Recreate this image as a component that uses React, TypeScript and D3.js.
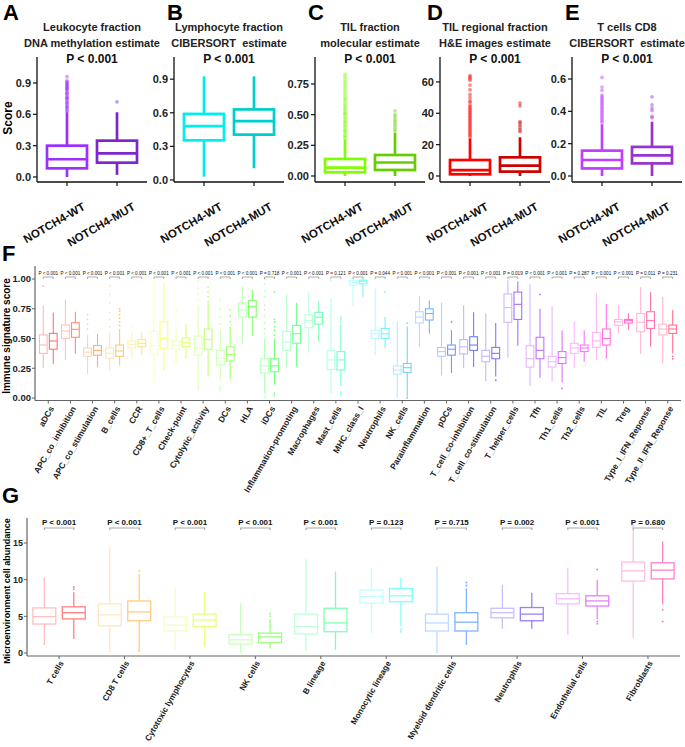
import React from "react";
import * as d3 from "d3";

const FONT = "'Liberation Sans', Arial, sans-serif";

// ---------------- Panels A–E data ----------------
const topGroups = ["NOTCH4-WT", "NOTCH4-MUT"];
const topLetters = ["A", "B", "C", "D", "E"];
const topTitleLine1 = ["Leukocyte fraction", "Lymphocyte fraction", "TIL fraction", "TIL regional fraction", "T cells CD8"];
const topTitleLine2 = ["DNA methylation estimate", "CIBERSORT  estimate", "molecular estimate", "H&E images estimate", "CIBERSORT  estimate"];
const topPValues = ["P < 0.001", "P < 0.001", "P < 0.001", "P < 0.001", "P < 0.001"];
const topTicks = [
  [0, 0.3, 0.6, 0.9],
  [0, 0.3, 0.6, 0.9],
  [0, 0.25, 0.5, 0.75],
  [0, 20, 40, 60],
  [0, 0.2, 0.4, 0.6],
];
const topTickDigits = [1, 1, 2, 0, 1];
const topDomains = [
  [-0.048, 1.149],
  [-0.018, 1.098],
  [-0.049, 0.97],
  [-3.83, 75.9],
  [-0.037, 0.736],
];
// [min, q1, median, q3, max]
const topWTStats = [
  [0.0, 0.083, 0.17, 0.3, 0.62],
  [0.03, 0.354, 0.48, 0.59, 0.925],
  [0.0, 0.03, 0.068, 0.139, 0.3],
  [0.0, 1.1, 3.8, 10.2, 24],
  [0.0, 0.047, 0.099, 0.157, 0.32],
];
const topMUTStats = [
  [0.02, 0.137, 0.227, 0.348, 0.62],
  [0.105, 0.405, 0.525, 0.63, 0.925],
  [0.0, 0.049, 0.11, 0.171, 0.35],
  [0.0, 2.8, 6.6, 11.9, 24.7],
  [0.0, 0.078, 0.128, 0.18, 0.336],
];
const topWTOutliers = [
  [0.63, 0.64, 0.66, 0.67, 0.68, 0.7, 0.71, 0.72, 0.74, 0.75, 0.76, 0.77, 0.79, 0.8, 0.81, 0.83, 0.84, 0.85, 0.86, 0.87, 0.88, 0.89, 0.9, 0.91, 0.92, 0.96],
  [],
  [0.31, 0.32, 0.33, 0.35, 0.36, 0.37, 0.38, 0.4, 0.41, 0.43, 0.44, 0.45, 0.47, 0.48, 0.5, 0.51, 0.52, 0.54, 0.55, 0.57, 0.58, 0.6, 0.62, 0.63, 0.65, 0.67, 0.69, 0.71, 0.73, 0.75, 0.77, 0.79, 0.81, 0.83],
  [25, 26, 27, 28, 29, 30, 31, 32, 33, 34, 35, 36, 37, 38, 39, 40, 41, 42, 43, 44, 45, 47, 48, 50, 52, 55, 58, 61, 62, 63, 64],
  [0.33, 0.34, 0.35, 0.36, 0.37, 0.38, 0.39, 0.4, 0.41, 0.42, 0.43, 0.44, 0.45, 0.46, 0.47, 0.48, 0.49, 0.5, 0.53, 0.55, 0.61],
];
const topMUTOutliers = [
  [0.72],
  [],
  [0.36, 0.38, 0.4, 0.42, 0.44, 0.46, 0.48, 0.5, 0.53],
  [28.3, 29.5, 31, 32.5, 33.8, 34.7, 44.7, 46.5],
  [0.36, 0.37, 0.405, 0.42, 0.44, 0.49],
];
const topColorsWT = ["#9B30FF", "#00EEEE", "#7FFF00", "#FF0000", "#BF3EFF"];
const topColorsMUT = ["#7D26CD", "#00CDCD", "#66CD00", "#CD0000", "#9A32CD"];

// ---------------- Panel F data ----------------
const fCats = [
  "aDCs", "APC_co_inhibition", "APC_co_stimulation", "B_cells", "CCR", "CD8+_T_cells", "Check-point",
  "Cytolytic_activity", "DCs", "HLA", "iDCs", "Inflammation-promoting", "Macrophages", "Mast_cells",
  "MHC_class_I", "Neutrophils", "NK_cells", "Parainflammation", "pDCs", "T_cell_co-inhibition",
  "T_cell_co-stimulation", "T_helper_cells", "Tfh", "Th1_cells", "Th2_cells", "TIL", "Treg",
  "Type_I_IFN_Reponse", "Type_II_IFN_Reponse",
];
const fPValues = [
  "P < 0.001", "P < 0.001", "P < 0.001", "P < 0.001", "P < 0.001", "P < 0.001", "P < 0.001",
  "P < 0.001", "P < 0.001", "P < 0.001", "P = 0.718", "P < 0.001", "P < 0.001", "P = 0.121",
  "P < 0.001", "P = 0.044", "P < 0.001", "P < 0.001", "P < 0.001", "P < 0.001",
  "P < 0.001", "P = 0.019", "P < 0.001", "P < 0.001", "P = 0.287", "P < 0.001", "P < 0.001",
  "P = 0.011", "P = 0.231",
];
const fWTStats = [
  [0.25, 0.375, 0.445, 0.53, 0.78],
  [0.32, 0.5, 0.563, 0.613, 0.83],
  [0.2, 0.35, 0.385, 0.42, 0.53],
  [0.23, 0.335, 0.375, 0.42, 0.55],
  [0.33, 0.42, 0.45, 0.48, 0.56],
  [0.12, 0.37, 0.44, 0.56, 1.0],
  [0.29, 0.41, 0.445, 0.48, 0.58],
  [0.06, 0.36, 0.42, 0.52, 0.78],
  [0.15, 0.28, 0.335, 0.4, 0.58],
  [0.45, 0.68, 0.74, 0.8, 0.94],
  [0.04, 0.21, 0.27, 0.33, 0.5],
  [0.25, 0.4, 0.47, 0.56, 0.87],
  [0.38, 0.59, 0.65, 0.7, 0.89],
  [0.04, 0.24, 0.32, 0.4, 0.84],
  [0.77, 0.95, 0.97, 0.986, 1.0],
  [0.36, 0.5, 0.54, 0.57, 0.92],
  [0.0, 0.2, 0.235, 0.27, 0.64],
  [0.43, 0.63, 0.68, 0.725, 0.86],
  [0.19, 0.35, 0.39, 0.425, 0.8],
  [0.25, 0.37, 0.43, 0.49, 0.78],
  [0.14, 0.305, 0.35, 0.4, 0.71],
  [0.34, 0.636, 0.76, 0.874, 0.99],
  [0.1, 0.26, 0.33, 0.44, 0.96],
  [0.14, 0.26, 0.305, 0.35, 0.77],
  [0.25, 0.375, 0.42, 0.46, 0.64],
  [0.32, 0.425, 0.48, 0.55, 0.88],
  [0.54, 0.61, 0.64, 0.66, 0.78],
  [0.37, 0.557, 0.636, 0.71, 0.93],
  [0.29, 0.53, 0.58, 0.62, 0.85],
];
const fMUTStats = [
  [0.286, 0.41, 0.479, 0.543, 0.717],
  [0.375, 0.51, 0.577, 0.633, 0.725],
  [0.26, 0.36, 0.4, 0.44, 0.54],
  [0.27, 0.35, 0.395, 0.445, 0.58],
  [0.36, 0.43, 0.46, 0.49, 0.55],
  [0.23, 0.42, 0.5, 0.64, 0.97],
  [0.33, 0.43, 0.465, 0.505, 0.62],
  [0.18, 0.41, 0.49, 0.58, 0.82],
  [0.16, 0.31, 0.365, 0.43, 0.6],
  [0.52, 0.68, 0.77, 0.82, 0.91],
  [0.11, 0.22, 0.27, 0.33, 0.5],
  [0.26, 0.46, 0.54, 0.61, 0.8],
  [0.47, 0.62, 0.68, 0.72, 0.81],
  [0.1, 0.235, 0.32, 0.39, 0.62],
  [0.85, 0.96, 0.98, 0.99, 1.0],
  [0.42, 0.5, 0.54, 0.585, 0.68],
  [0.01, 0.215, 0.255, 0.29, 0.6],
  [0.54, 0.655, 0.71, 0.75, 0.82],
  [0.21, 0.36, 0.41, 0.445, 0.57],
  [0.26, 0.4, 0.445, 0.515, 0.72],
  [0.18, 0.33, 0.375, 0.425, 0.63],
  [0.44, 0.66, 0.787, 0.89, 0.98],
  [0.17, 0.33, 0.4, 0.51, 0.75],
  [0.13, 0.29, 0.34, 0.39, 0.57],
  [0.305, 0.39, 0.42, 0.445, 0.57],
  [0.33, 0.445, 0.5, 0.58, 0.79],
  [0.57, 0.63, 0.65, 0.66, 0.71],
  [0.43, 0.585, 0.65, 0.725, 0.89],
  [0.375, 0.543, 0.58, 0.613, 0.74],
];
const fWTOutliers = [
  [0.94], [], [0.58, 0.62, 0.66, 0.7], [0.6, 0.66, 0.72, 0.8, 0.87, 0.94], [0.6], [], [0.63, 0.68, 0.73],
  [0.82, 0.87, 0.92, 0.98], [0.62, 0.68, 0.75, 0.82, 0.1, 0.08, 0.06], [], [0.54, 0.58, 0.63, 0.69, 0.74, 0.78, 0.85, 0.9, 0.96, 1.0, 0.01],
  [], [], [0.99], [], [], [], [], [], [], [], [], [], [], [], [], [], [], [],
];
const fMUTOutliers = [
  [], [], [], [0.61, 0.64, 0.67, 0.7, 0.73, 0.75], [], [], [],
  [0.85, 0.89, 0.93], [0.64, 0.69, 0.74], [], [0.53, 0.57, 0.6, 0.64, 0.66, 0.89, 0.04, 0.02],
  [], [], [0.64, 0.66, 0.68, 0.05, 0.03], [], [0.89], [0.63, 0.0], [], [0.64], [], [0.15], [], [0.87], [0.08], [], [], [], [], [0.33, 0.35],
];

// ---------------- Panel G data ----------------
const gCats = [
  "T cells", "CD8 T cells", "Cytotoxic lymphocytes", "NK cells", "B lineage", "Monocytic lineage",
  "Myeloid dendritic cells", "Neutrophils", "Endothelial cells", "Fibroblasts",
];
const gPValues = ["P < 0.001", "P < 0.001", "P < 0.001", "P < 0.001", "P < 0.001", "P = 0.123", "P = 0.715", "P = 0.002", "P < 0.001", "P = 0.680"];
const gWTStats = [
  [1.1, 3.95, 4.95, 6.15, 10.3],
  [0.0, 3.7, 5.2, 6.7, 14.5],
  [0.4, 3.0, 3.8, 4.9, 8.9],
  [0.0, 1.2, 1.8, 2.5, 6.8],
  [0.3, 2.6, 3.6, 5.3, 12.8],
  [2.7, 6.8, 7.7, 8.6, 11.6],
  [0.0, 3.0, 4.1, 5.3, 11.8],
  [3.3, 4.8, 5.5, 6.1, 9.3],
  [2.5, 6.7, 7.4, 8.1, 11.6],
  [2.0, 9.8, 11.2, 12.4, 16.8],
];
const gMUTStats = [
  [1.9, 4.65, 5.5, 6.3, 8.3],
  [0.1, 4.4, 5.6, 7.1, 10.8],
  [0.8, 3.6, 4.5, 5.3, 8.3],
  [0.6, 1.4, 2.2, 2.7, 4.6],
  [0.4, 2.9, 4.1, 6.1, 11.1],
  [3.6, 7.0, 7.8, 8.8, 10.3],
  [1.1, 3.0, 4.2, 5.5, 8.8],
  [3.3, 4.4, 5.3, 6.2, 8.2],
  [4.6, 6.4, 7.1, 7.8, 10.0],
  [6.6, 10.1, 11.3, 12.3, 15.2],
];
const gWTOutliers = [[], [], [], [], [], [], [], [], [], [17.2, 17.5]];
const gMUTOutliers = [[8.7, 9.0], [11.2, 0.4], [], [5.0, 5.4], [], [3.2, 2.9], [9.2, 9.6], [], [11.4, 4.3, 4.0], [5.9, 4.3]];
const gTicks = [0, 5, 10, 15];
const fTicks = [0, 0.25, 0.5, 0.75, 1.0];

// ---------------- helpers ----------------
const blend = (hue: number, alpha: number) =>
  d3.interpolateRgb("#ffffff", d3.hsl(hue, 1, 0.5).formatHex())(alpha);

type BoxProps = {
  cx: number; w: number; stats: number[]; ys: (v: number) => number; color: string;
  sw: number; outliers: number[]; r: number; ptOpacity: number;
};
function Box({ cx, w, stats, ys, color, sw, outliers, r, ptOpacity }: BoxProps) {
  const [mn, q1, md, q3, mx] = stats;
  return (
    <g>
      {outliers.map((v, k) => (
        <circle key={k} cx={cx} cy={ys(v)} r={r} fill={color} fillOpacity={ptOpacity} />
      ))}
      <line x1={cx} x2={cx} y1={ys(q3)} y2={ys(mx)} stroke={color} strokeWidth={sw} />
      <line x1={cx} x2={cx} y1={ys(q1)} y2={ys(mn)} stroke={color} strokeWidth={sw} />
      <rect x={cx - w / 2} y={ys(q3)} width={w} height={ys(q1) - ys(q3)} fill="#fff" stroke={color} strokeWidth={sw} />
      <line x1={cx - w / 2} x2={cx + w / 2} y1={ys(md)} y2={ys(md)} stroke={color} strokeWidth={sw} />
    </g>
  );
}

// ---------------- Top panel ----------------
const topAxisX = [37, 174, 315, 440, 572];
const topLetterX = [3, 167, 308, 427, 565];
const topPlotW = 110;
const topY0 = 182;
const topY1 = 57;

function TopPanel({ i }: { i: number }) {
  const x0 = topAxisX[i];
  const xs = d3.scaleBand().domain(topGroups).range([x0, x0 + topPlotW]).paddingInner(0.2).paddingOuter(0.2);
  const ys = d3.scaleLinear().domain(topDomains[i]).range([topY0, topY1]);
  const bw = xs.bandwidth();
  const cxm = x0 + topPlotW / 2;
  const fmt = d3.format(`.${topTickDigits[i]}f`);
  const stats = [topWTStats[i], topMUTStats[i]];
  const outs = [topWTOutliers[i], topMUTOutliers[i]];
  const cols = [topColorsWT[i], topColorsMUT[i]];
  return (
    <g>
      <text x={topLetterX[i]} y={20} fontSize={22} fontWeight="bold">{topLetters[i]}</text>
      <text x={cxm} y={31} fontSize={11} fontWeight="bold" textAnchor="middle" fill="#222">{topTitleLine1[i]}</text>
      <text x={cxm} y={47} fontSize={11} fontWeight="bold" textAnchor="middle" fill="#222" style={{ whiteSpace: "pre" }}>{topTitleLine2[i]}</text>
      <text x={cxm} y={63} fontSize={12} fontWeight="bold" textAnchor="middle" fill="#111">{topPValues[i]}</text>
      {topGroups.map((g, k) => (
        <Box key={g} cx={(xs(g) as number) + bw / 2} w={bw} stats={stats[k]} ys={ys} color={cols[k]} sw={2.7}
          outliers={outs[k]} r={1.9} ptOpacity={0.45} />
      ))}
      <line x1={x0} x2={x0} y1={topY1} y2={topY0} stroke="#111" strokeWidth={1.3} />
      <line x1={x0} x2={x0 + topPlotW} y1={topY0} y2={topY0} stroke="#111" strokeWidth={1.3} />
      {topTicks[i].map((t) => (
        <g key={t}>
          <line x1={x0 - 4} x2={x0} y1={ys(t)} y2={ys(t)} stroke="#111" strokeWidth={1.2} />
          <text x={x0 - 6} y={ys(t)} dy="0.36em" fontSize={11} fontWeight="bold" textAnchor="end" fill="#222">{fmt(t)}</text>
        </g>
      ))}
      {topGroups.map((g) => {
        const tx = (xs(g) as number) + bw / 2;
        return (
          <g key={g}>
            <line x1={tx} x2={tx} y1={topY0} y2={topY0 + 4} stroke="#111" strokeWidth={1.2} />
            <text x={tx + 19} y={topY0 + 27} fontSize={11.5} fontWeight="bold" textAnchor="end" fill="#111"
              transform={`rotate(-30 ${tx + 19} ${topY0 + 27})`}>{g}</text>
          </g>
        );
      })}
    </g>
  );
}

// ---------------- Panel F ----------------
function PanelF() {
  const axL = 35, axR = 681, yBottom = 400.5, yTop = 266;
  const xs = d3.scalePoint().domain(fCats).range([axL, axR]).padding(0.6);
  const step = xs.step();
  const ys = d3.scaleLinear().domain([0, 1]).range([398, 279]);
  const n = fCats.length;
  return (
    <g>
      <text x={2} y={261} fontSize={22} fontWeight="bold">F</text>
      <text transform={`translate(6,336) rotate(-90)`} fontSize={10} fontWeight="bold" textAnchor="middle" dy="0.35em">Immune signature score</text>
      {fCats.map((c, i) => {
        const cx = xs(c) as number;
        const hue = (i * 360) / n;
        const off = 0.225 * step;
        const w = 0.35 * step;
        return (
          <g key={c}>
            <Box cx={cx - off} w={w} stats={fWTStats[i]} ys={ys} color={blend(hue, 0.28)} sw={1.1} outliers={fWTOutliers[i]} r={0.9} ptOpacity={1} />
            <Box cx={cx + off} w={w} stats={fMUTStats[i]} ys={ys} color={blend(hue, 0.55)} sw={1.1} outliers={fMUTOutliers[i]} r={0.9} ptOpacity={1} />
            <path d={`M${cx - off},279 V277 H${cx + off} V279`} fill="none" stroke="#777" strokeWidth={0.6} />
            <text x={cx} y={274.5} fontSize={4.6} textAnchor="middle" fill="#111">{fPValues[i]}</text>
            <line x1={cx} x2={cx} y1={yBottom} y2={yBottom + 3} stroke="#666" strokeWidth={1} />
            <text x={cx + 6} y={yBottom + 8} fontSize={8.5} fontWeight="bold" textAnchor="end" fill="#222"
              transform={`rotate(-60 ${cx + 6} ${yBottom + 8})`}>{c}</text>
          </g>
        );
      })}
      <line x1={axL} x2={axL} y1={yTop} y2={yBottom} stroke="#666" strokeWidth={1.2} />
      <line x1={axL} x2={axR} y1={yBottom} y2={yBottom} stroke="#666" strokeWidth={1.2} />
      {fTicks.map((t) => (
        <g key={t}>
          <line x1={axL - 3} x2={axL} y1={ys(t)} y2={ys(t)} stroke="#666" strokeWidth={1} />
          <text x={axL - 4} y={ys(t)} dy="0.36em" fontSize={9.5} fontWeight="bold" textAnchor="end" fill="#222">{d3.format(".2f")(t)}</text>
        </g>
      ))}
    </g>
  );
}

// ---------------- Panel G ----------------
function PanelG() {
  const axL = 27, axR = 680, yBottom = 656, yTop = 518;
  const xs = d3.scalePoint().domain(gCats).range([axL, axR]).padding(0.49);
  const step = xs.step();
  const ys = d3.scaleLinear().domain([0, 15]).range([653, 543]);
  const n = gCats.length;
  return (
    <g>
      <text x={2} y={503} fontSize={22} fontWeight="bold">G</text>
      <text transform={`translate(7,591) rotate(-90)`} fontSize={9} fontWeight="bold" textAnchor="middle" dy="0.35em">Microenvironment cell abundance</text>
      {gCats.map((c, i) => {
        const cx = xs(c) as number;
        const hue = (i * 360) / n;
        const off = 0.225 * step;
        const w = 0.35 * step;
        return (
          <g key={c}>
            <Box cx={cx - off} w={w} stats={gWTStats[i]} ys={ys} color={blend(hue, 0.25)} sw={1.3} outliers={gWTOutliers[i]} r={1} ptOpacity={1} />
            <Box cx={cx + off} w={w} stats={gMUTStats[i]} ys={ys} color={blend(hue, 0.5)} sw={1.3} outliers={gMUTOutliers[i]} r={1} ptOpacity={1} />
            <path d={`M${cx - off},530 V528 H${cx + off} V530`} fill="none" stroke="#aaa" strokeWidth={1.2} />
            <text x={cx} y={525} fontSize={8} fontWeight="bold" textAnchor="middle" fill="#111">{gPValues[i]}</text>
            <line x1={cx} x2={cx} y1={yBottom} y2={yBottom + 3} stroke="#666" strokeWidth={1} />
            <text x={cx + 5} y={yBottom + 7} fontSize={8.3} fontWeight="bold" textAnchor="end" fill="#222"
              transform={`rotate(-60 ${cx + 5} ${yBottom + 7})`}>{c}</text>
          </g>
        );
      })}
      <line x1={axL} x2={axL} y1={yTop} y2={yBottom} stroke="#666" strokeWidth={1.2} />
      <line x1={axL} x2={axR} y1={yBottom} y2={yBottom} stroke="#666" strokeWidth={1.2} />
      {gTicks.map((t) => (
        <g key={t}>
          <line x1={axL - 3} x2={axL} y1={ys(t)} y2={ys(t)} stroke="#666" strokeWidth={1} />
          <text x={axL - 4} y={ys(t)} dy="0.36em" fontSize={9} fontWeight="bold" textAnchor="end" fill="#222">{t}</text>
        </g>
      ))}
    </g>
  );
}

export default function App() {
  return (
    <svg width={685} height={747} style={{ position: "absolute", left: 0, top: 0 }} fontFamily={FONT}>
      <rect width={685} height={747} fill="#fff" />
      {topLetters.map((l, i) => (
        <TopPanel key={l} i={i} />
      ))}
      <text transform="translate(8,118) rotate(-90)" fontSize={12} fontWeight="bold" textAnchor="middle" dy="0.35em">Score</text>
      <PanelF />
      <PanelG />
    </svg>
  );
}
